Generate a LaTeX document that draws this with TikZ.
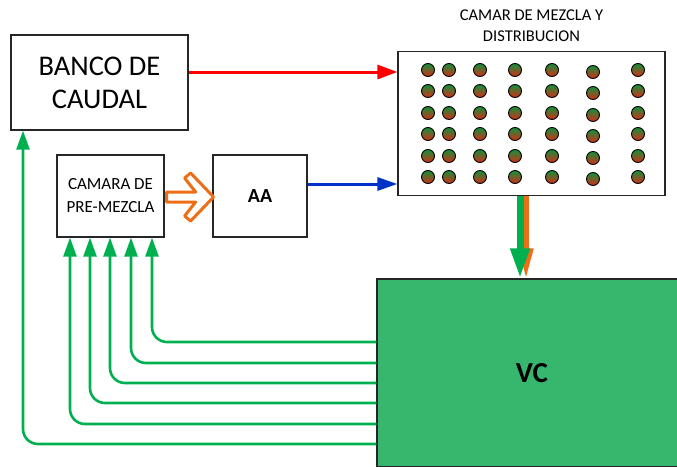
\documentclass[tikz,border=0pt]{standalone}
\usepackage{fontspec}
\setmainfont{Carlito}
\usetikzlibrary{arrows.meta,positioning}
\definecolor{vcgreen}{RGB}{55,182,110}
\definecolor{lnkgreen}{RGB}{0,176,80}
\definecolor{dotgreen}{RGB}{15,145,60}
\definecolor{dotred}{RGB}{215,45,20}
\definecolor{flowblue}{RGB}{0,50,200}
\definecolor{mixorange}{RGB}{237,110,20}

\begin{document}
\begin{tikzpicture}[x=1pt, y=-1pt, line width=1.2pt,
                    box/.style={draw=black!85, fill=white, align=center, inner sep=0pt},
                    feed/.style={lnkgreen, line width=2.6pt, rounded corners=15pt,
                                 -{Triangle[length=19pt,width=13pt]}}]
  \clip (0,0) rectangle (677,466);
  \node[box, minimum width=177pt, minimum height=95pt,
        font=\fontsize{28.5}{33}\selectfont] (banco) at (99.5,82.5) {BANCO DE\\CAUDAL};
  \node[box, minimum width=107pt, minimum height=82pt,
        font=\fontsize{17}{23}\selectfont] (pre) at (110.5,196) {CAMARA DE\\PRE-MEZCLA};
  \node[box, minimum width=94pt, minimum height=82pt,
        font=\fontsize{20}{24}\selectfont\bfseries] (aa) at (260,196) {AA};
  \node[box, minimum width=267pt, minimum height=144pt] (cham) at (531.5,123.5) {};
  \node[above=5pt of cham, align=center,
        font=\fontsize{16.5}{21}\selectfont] (title) {CAMAR DE MEZCLA Y\\DISTRIBUCION};
  \node[box, fill=vcgreen, minimum width=310pt, minimum height=188pt,
        font=\fontsize{29}{34}\selectfont\bfseries] (vc) at (532,373) {VC};
  % particulas en la camara
  \foreach \x/\d in {428/0,449/0,480/0,515/0,552/0,593/2,638/0}
    \foreach \y in {70,91,113,134,156,177}
      \shadedraw[top color=dotgreen, bottom color=dotred, line width=0.9pt]
        (\x,\y+\d) circle (6.5pt);
  % flujos
  \draw[red, line width=3pt, -{Triangle[length=20pt,width=14pt]}]
    (banco.east |- 0,72) -- (cham.west |- 0,72);
  \draw[flowblue, line width=3pt, -{Triangle[length=20pt,width=13pt]}]
    (aa.east |- 0,184) -- (cham.west |- 0,184);
  \draw[mixorange, line width=3pt, fill=white, line join=round, shift={(pre.east)}]
    (2,-4) -- (31,-4) -- (20,-18) -- (26,-23) -- (49,1) -- (26,25) -- (20,20)
    -- (31,6) -- (2,6) -- cycle;
  \draw[mixorange, line width=5pt, -{Triangle[length=30pt,width=14pt]}]
    (cham.south -| 526,0) -- (vc.north -| 526,0);
  \draw[lnkgreen, line width=7pt, -{Triangle[length=30pt,width=18pt]}]
    (cham.south -| 520,0) -- (vc.north -| 520,0);
  % retornos desde VC
  \foreach \x/\y in {152/342,131/363,110/383,90/403,70/424}
    \draw[feed] (vc.west |- 0,\y) -| (pre.south -| \x,0);
  \draw[feed] (vc.west |- 0,444) -| (banco.south -| 23,0);
\end{tikzpicture}
\end{document}
